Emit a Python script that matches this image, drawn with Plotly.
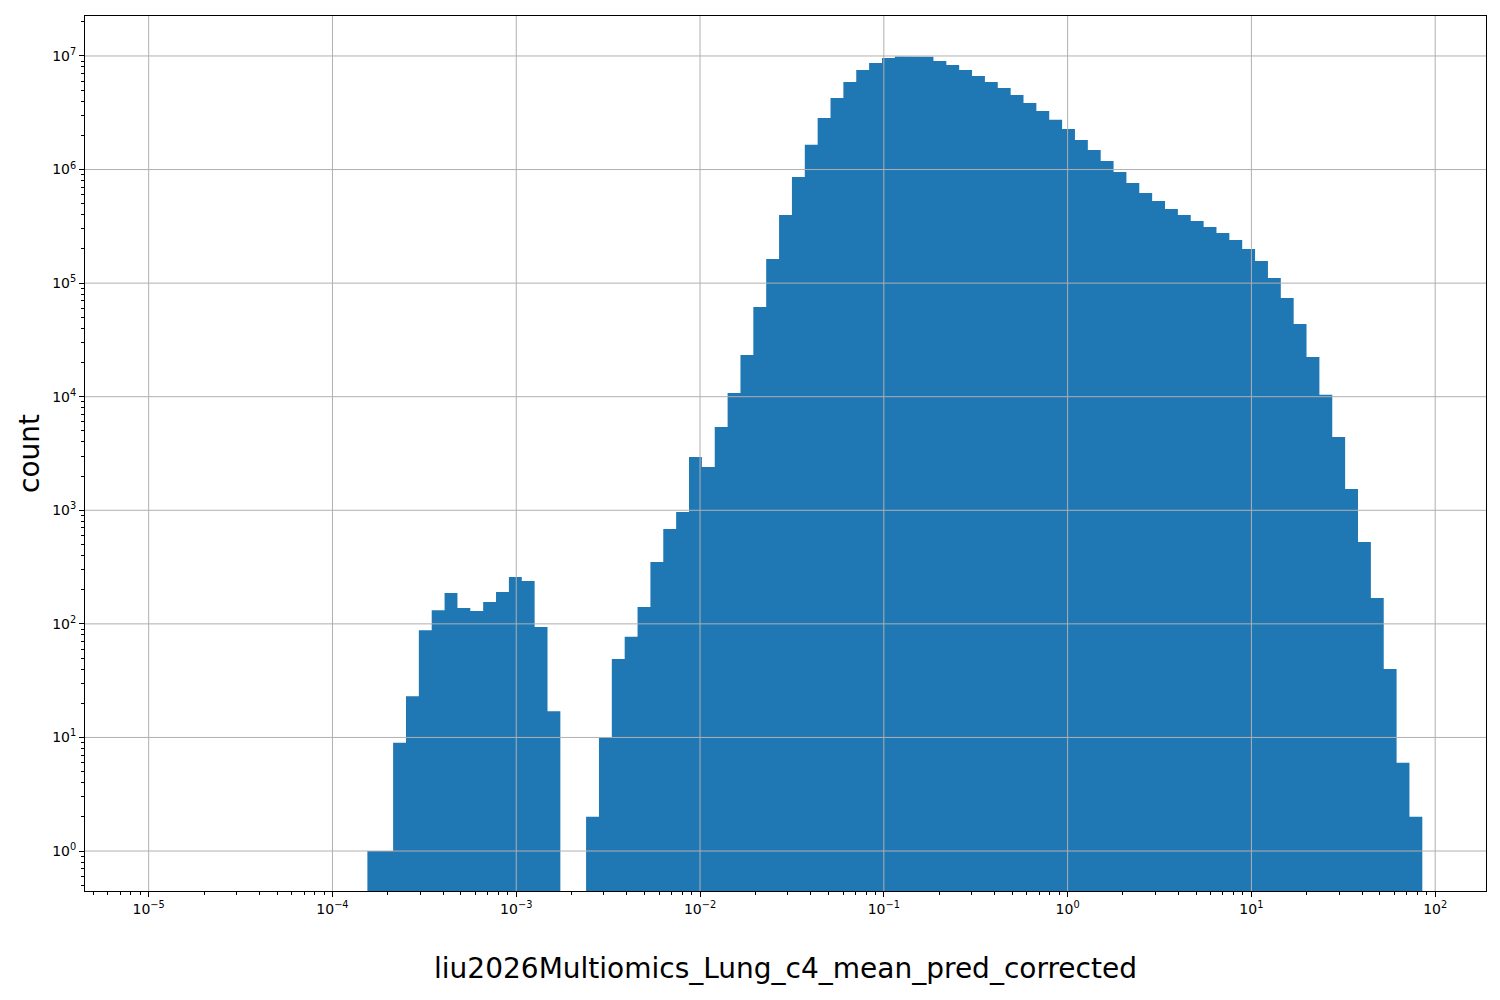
import numpy as np
import plotly.graph_objects as go

# ---- data ----
bin_lo_exp = -5.0      # log10 of first bin edge
bin_hi_exp = 1.93      # log10 of last bin edge
n_bins = 99
# counts per bin (first 17 bins empty)
counts = [0] * 17 + [
    1, 1, 9, 23, 88, 132, 187, 138, 130, 156, 191, 259, 238, 94, 17,
    0, 0,
    2, 10, 49, 77, 141, 350, 684, 966, 2945, 2404, 5410, 10790, 23300, 61600,
    163000, 398000, 861000, 1.65e6, 2.85e6, 4.27e6, 5.9e6, 7.53e6, 8.68e6, 9.6e6,
    9.9e6, 9.95e6, 9.85e6, 9.04e6, 8.34e6, 7.53e6, 6.68e6, 5.9e6, 5.23e6, 4.54e6,
    3.86e6, 3.28e6, 2.74e6, 2.28e6, 1.82e6, 1.49e6, 1.19e6, 9.53e5, 7.62e5, 6.22e5,
    5.29e5, 4.5e5, 3.98e5, 3.53e5, 3.12e5, 2.76e5, 2.4e5, 2.0e5, 1.57e5, 1.11e5,
    7.4e4, 4.37e4, 2.24e4, 1.04e4, 4420, 1540, 526, 169, 40, 6, 2,
]
x_tick_exps = [-5, -4, -3, -2, -1, 0, 1, 2]
y_tick_exps = [0, 1, 2, 3, 4, 5, 6, 7]
x_label = "liu2026Multiomics_Lung_c4_mean_pred_corrected"
y_label = "count"

# ---- build histogram outline ----
edges = np.logspace(bin_lo_exp, bin_hi_exp, n_bins + 1)
floor = 1e-3
first = next(i for i, c in enumerate(counts) if c > 0)
last = max(i for i, c in enumerate(counts) if c > 0)
xs, ys = [edges[first]], [floor]
for i in range(first, last + 1):
    h = counts[i] if counts[i] > 0 else floor
    xs += [edges[i], edges[i + 1]]
    ys += [h, h]
xs += [edges[last + 1], edges[first]]
ys += [floor, floor]

fig = go.Figure()
fig.add_trace(go.Scatter(
    x=xs, y=ys, mode="lines", fill="toself",
    fillcolor="#1f77b4", line=dict(width=0, color="#1f77b4"),
    hoverinfo="skip", showlegend=False,
))

grid_col = "#b0b0b0"
shapes = []
for e in x_tick_exps:
    shapes.append(dict(type="line", xref="x", yref="paper", x0=10**e, x1=10**e,
                       y0=0, y1=1, line=dict(color=grid_col, width=1), layer="above"))
for e in y_tick_exps:
    shapes.append(dict(type="line", xref="paper", yref="y", x0=0, x1=1,
                       y0=10**e, y1=10**e, line=dict(color=grid_col, width=1), layer="above"))


def power_label(e):
    s = str(e).replace("-", "\u2212")
    return f"10<sup>{s}</sup>"


font = "DejaVu Sans"
axis_common = dict(
    type="log", showgrid=False, zeroline=False, automargin=False,
    showline=True, linecolor="black", linewidth=1, mirror=True,
    ticks="outside", ticklen=5, tickwidth=1, tickcolor="black",
    tickfont=dict(family=font, size=14, color="black"),
    minor=dict(ticks="outside", ticklen=3, tickwidth=0.8, tickcolor="black",
               dtick="D1", showgrid=False),
    layer="above traces",
)

fig.update_layout(
    width=1500, height=1000,
    paper_bgcolor="white", plot_bgcolor="white",
    margin=dict(l=77, r=22, t=8, b=117),
    shapes=shapes,
    xaxis=dict(axis_common, range=[-5.3465, 2.2765],
               tickvals=[10**e for e in x_tick_exps],
               ticktext=[power_label(e) for e in x_tick_exps],
               title=dict(text=x_label, font=dict(family=font, size=28, color="black"),
                          standoff=42)),
    yaxis=dict(axis_common, range=[-0.352, 7.352],
               tickvals=[10**e for e in y_tick_exps],
               ticktext=[power_label(e) for e in y_tick_exps],
               title=dict(text=y_label, font=dict(family=font, size=28, color="black"),
                          standoff=4)),
)

fig.write_html("out.html")
